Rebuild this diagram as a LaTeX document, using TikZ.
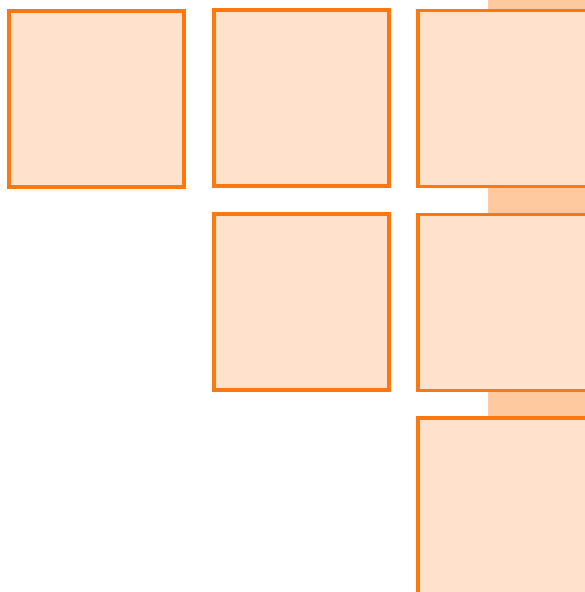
\documentclass[tikz,border=0pt]{standalone}
\definecolor{boxfill}{HTML}{FFE1CC}
\definecolor{boxline}{HTML}{FF770F}
\definecolor{stripfill}{HTML}{FFC9A0}
\begin{document}
\begin{tikzpicture}[x=1pt,y=-1pt,
  cell/.style={draw=boxline,fill=boxfill,line width=3.2pt,minimum width=175pt,minimum height=176pt,inner sep=0pt,outer sep=0pt,anchor=north west}]
\useasboundingbox (0,0) rectangle (585,592);
\clip (0,0) rectangle (585,592);
\fill[stripfill] (488,0) rectangle (600,600);
\node[cell] (a) at (9,11) {};
\node[cell] (b) at (214,10) {};
\node[cell] (c) at (418,10.5) {};
\node[cell] (d) at (214,214) {};
\node[cell] (e) at (418,214.5) {};
\node[cell] (f) at (418,418) {};
\end{tikzpicture}
\end{document}
